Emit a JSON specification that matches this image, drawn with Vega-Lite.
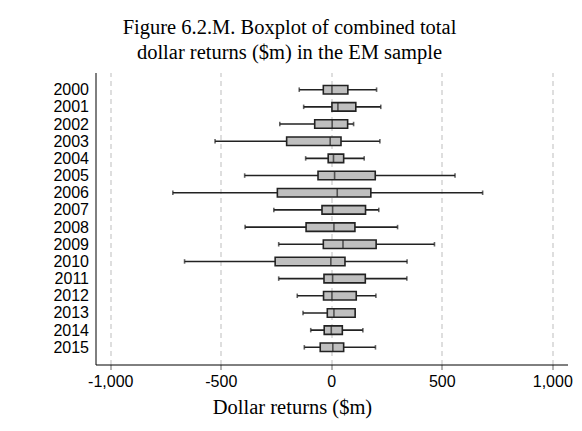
{
  "$schema": "https://vega.github.io/schema/vega-lite/v6.json",
  "autosize": {"type": "none"},
  "padding": {"left": 95.5, "top": 72.5, "right": 14, "bottom": 66},
  "width": 472,
  "height": 292,
  "background": "white",
  "title": {
    "text": ["Figure 6.2.M. Boxplot of combined total", "dollar returns ($m) in the EM sample"],
    "font": "Liberation Serif",
    "fontSize": 20.5,
    "fontWeight": "normal",
    "color": "black",
    "anchor": "middle",
    "frame": "group",
    "dx": -42,
    "offset": 9,
    "lineHeight": 25
  },
  "data": {
    "values": [
      {"year": "2000", "lo": -145, "q1": -36, "median": 3, "q3": 75, "hi": 205},
      {"year": "2001", "lo": -125, "q1": 3, "median": 30, "q3": 111, "hi": 224},
      {"year": "2002", "lo": -233, "q1": -75, "median": 4, "q3": 74, "hi": 101},
      {"year": "2003", "lo": -526, "q1": -202, "median": -5, "q3": 44, "hi": 220},
      {"year": "2004", "lo": -116, "q1": -14, "median": 10, "q3": 56, "hi": 149},
      {"year": "2005", "lo": -392, "q1": -60, "median": 15, "q3": 199, "hi": 560},
      {"year": "2006", "lo": -717, "q1": -244, "median": 27, "q3": 179, "hi": 685},
      {"year": "2007", "lo": -260, "q1": -42, "median": 6, "q3": 155, "hi": 215},
      {"year": "2008", "lo": -390, "q1": -114, "median": 12, "q3": 107, "hi": 300},
      {"year": "2009", "lo": -238, "q1": -36, "median": 53, "q3": 203, "hi": 467},
      {"year": "2010", "lo": -664, "q1": -254, "median": -2, "q3": 62, "hi": 343},
      {"year": "2011", "lo": -238, "q1": -33, "median": 6, "q3": 154, "hi": 342},
      {"year": "2012", "lo": -154, "q1": -35, "median": 3, "q3": 113, "hi": 202},
      {"year": "2013", "lo": -128, "q1": -18, "median": 12, "q3": 108, "hi": 108},
      {"year": "2014", "lo": -93, "q1": -32, "median": 0, "q3": 50, "hi": 143},
      {"year": "2015", "lo": -122, "q1": -50, "median": 7, "q3": 56, "hi": 200}
    ]
  },
  "encoding": {
    "y": {
      "field": "year",
      "type": "ordinal",
      "scale": {"type": "point", "padding": 1.19},
      "axis": {
        "title": null,
        "ticks": false,
        "grid": false,
        "labelFont": "Liberation Sans",
        "labelFontSize": 16,
        "labelColor": "black",
        "labelPadding": 7,
        "domainColor": "black",
        "domainWidth": 1
      }
    }
  },
  "layer": [
    {
      "mark": {"type": "rule", "color": "#222222", "strokeWidth": 1.6},
      "encoding": {
        "x": {
          "field": "lo",
          "type": "quantitative",
          "scale": {"domain": [-1067, 1069], "nice": false, "zero": false},
          "axis": {
            "values": [-1000, -500, 0, 500, 1000],
            "labelExpr": "(datum.value < 0 ? '-' : '') + format(abs(datum.value), ',.0f')",
            "title": "Dollar returns ($m)",
            "titleFont": "Liberation Serif",
            "titleFontSize": 20.5,
            "titleFontWeight": "normal",
            "titleColor": "black",
            "titleX": 196.5,
            "titleY": 49,
            "titleBaseline": "alphabetic",
            "titleAnchor": "middle",
            "labelFont": "Liberation Sans",
            "labelFontSize": 16,
            "labelColor": "black",
            "labelPadding": 4,
            "ticks": true,
            "tickSize": 5,
            "tickColor": "#666666",
            "tickWidth": 1,
            "domainColor": "black",
            "domainWidth": 1,
            "grid": true,
            "gridColor": "#c8c8c8",
            "gridDash": [5, 4],
            "gridWidth": 1.2
          }
        },
        "x2": {"field": "hi"}
      }
    },
    {
      "mark": {"type": "tick", "color": "#222222", "thickness": 1.6, "size": 4.5},
      "encoding": {"x": {"field": "lo", "type": "quantitative"}}
    },
    {
      "mark": {"type": "tick", "color": "#222222", "thickness": 1.6, "size": 4.5},
      "encoding": {"x": {"field": "hi", "type": "quantitative"}}
    },
    {
      "mark": {"type": "bar", "size": 8.5, "fill": "#bfbfbf", "stroke": "#222222", "strokeWidth": 1.6},
      "encoding": {
        "x": {"field": "q1", "type": "quantitative"},
        "x2": {"field": "q3"}
      }
    },
    {
      "mark": {"type": "tick", "color": "#222222", "thickness": 1.6, "size": 8.5},
      "encoding": {"x": {"field": "median", "type": "quantitative"}}
    }
  ],
  "config": {
    "view": {"stroke": null}
  }
}
